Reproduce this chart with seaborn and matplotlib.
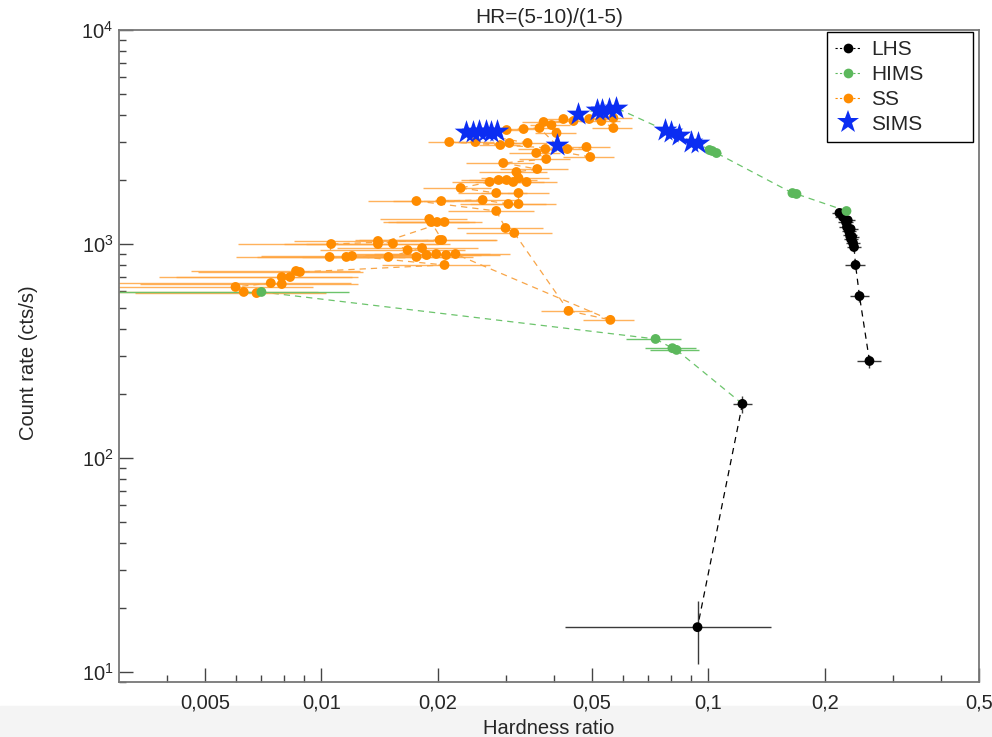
import pandas as pd
import matplotlib
matplotlib.use("Agg")
import matplotlib.pyplot as plt
import seaborn as sns
from matplotlib.lines import Line2D
from matplotlib.patches import Rectangle
from matplotlib.ticker import FixedLocator, FixedFormatter, NullFormatter

# values, each state kept in time order
lhs_hr = [0.2606, 0.2456, 0.2399, 0.2377, 0.2363, 0.2335, 0.2350, 0.2321, 0.2307,
          0.2330, 0.2280, 0.2266, 0.2290, 0.2226, 0.2180, 0.1224, 0.0937]
lhs_rate = [284, 571, 798, 968, 1011, 1055, 1080, 1102, 1150,
            1175, 1200, 1267, 1290, 1337, 1397, 179, 16.2]
lhs_hr_err = [0.018, 0.014, 0.014, 0.010, 0.010, 0.010, 0.010, 0.010, 0.010,
              0.010, 0.010, 0.010, 0.010, 0.010, 0.010, 0.007, 0.051]
lhs_rate_err = [20, 35, 45, 50, 50, 50, 50, 50, 50, 50, 50, 50, 50, 50, 50, 16, 5.3]

hims_hr = [0.2273, 0.1688, 0.1648, 0.1049, 0.1023, 0.1006, 0.0070, 0.0730, 0.0807, 0.0827]
hims_rate = [1426, 1713, 1730, 2661, 2720, 2749, 597, 360, 326, 320]
hims_hr_err = [0.005, 0.004, 0.004, 0.003, 0.003, 0.003, 0.0048, 0.0117, 0.012, 0.012]
hims_rate_err = [25, 25, 25, 30, 30, 30, 8, 6, 6, 6]

sims_hr = [0.0937, 0.0904, 0.0841, 0.0802, 0.0770, 0.0578, 0.0555, 0.0532, 0.0514,
           0.0459, 0.0405, 0.0285, 0.0275, 0.0267, 0.0256, 0.0246, 0.0237]
sims_rate = [2965, 2998, 3227, 3335, 3411, 4321, 4275, 4227, 4227,
             4051, 2901, 3374, 3337, 3374, 3374, 3337, 3337]

ss_hr = [0.0568, 0.0568, 0.0529, 0.0492, 0.0448, 0.0422, 0.0393, 0.0375, 0.0405,
         0.0366, 0.0333, 0.0301,
         0.0341, 0.0306, 0.0290, 0.0250, 0.0214, 0.0432, 0.0484, 0.0495, 0.0379, 0.0359,
         0.0381, 0.0295, 0.0361, 0.0319, 0.0323, 0.0339, 0.0313, 0.0301, 0.0287, 0.0272,
         0.0229, 0.0283, 0.0323, 0.0323, 0.0304, 0.0261, 0.0204, 0.0176, 0.0283, 0.0299,
         0.0315, 0.0435, 0.0558, 0.0222, 0.0210, 0.0198, 0.0187, 0.0176, 0.0149, 0.0182,
         0.0167, 0.0153, 0.0140, 0.0140, 0.0208, 0.0199, 0.0192, 0.0190, 0.0205, 0.0202,
         0.0106, 0.0105, 0.0116, 0.0120, 0.0208, 0.0088, 0.0086, 0.0083, 0.0079, 0.0079,
         0.0074, 0.0060, 0.0063, 0.0068]
ss_rate = [3880, 3484, 3757, 3838, 3757, 3838, 3598, 3717, 3301,
           3484, 3446, 3409,
           2965, 2965, 2901, 2996, 2996, 2779, 2840, 2550, 2779, 2662,
           2496, 2390, 2241, 2170, 2034, 1949, 1949, 1991, 1991, 1949,
           1827, 1731, 1731, 1538, 1538, 1606, 1588, 1588, 1427, 1188,
           1126, 487, 442, 898, 888, 898, 888, 870, 870, 957,
           937, 1005, 1033, 1000, 1267, 1267, 1267, 1309, 1044, 1044,
           1000, 870, 870, 879, 798, 740, 748, 701, 701, 650,
           657, 630, 597, 590]
ss_hr_err = [0.0068, 0.0068, 0.0063, 0.0059, 0.0054, 0.0051, 0.0047, 0.0045, 0.0049,
             0.0044, 0.0040, 0.0036,
             0.0041, 0.0037, 0.0035, 0.0030, 0.0026, 0.0065, 0.0073, 0.0074, 0.0057, 0.0054,
             0.0057, 0.0059, 0.0072, 0.0064, 0.0065, 0.0068, 0.0063, 0.0060, 0.0057, 0.0054,
             0.0046, 0.0057, 0.0065, 0.0081, 0.0076, 0.0065, 0.0051, 0.0044, 0.0071, 0.0075,
             0.0079, 0.0065, 0.0085, 0.0085, 0.0080, 0.0075, 0.0072, 0.0070, 0.0060, 0.0072,
             0.0068, 0.0062, 0.0055, 0.0060, 0.0052, 0.0050, 0.0048, 0.0048, 0.0080, 0.0080,
             0.0045, 0.0045, 0.0048, 0.0050, 0.0065, 0.0040, 0.0040, 0.0041, 0.0041, 0.0045,
             0.0045, 0.0035, 0.0035, 0.0035]

# how the states follow each other in time: (state, number of points)
sequence = [("LHS", 15), ("HIMS", 6), ("SIMS", 10), ("SS", 9), ("SIMS", 1),
            ("SS", 3), ("SIMS", 6), ("SS", 64), ("HIMS", 4), ("LHS", 2)]

x_ticks = [0.005, 0.01, 0.02, 0.05, 0.1, 0.2, 0.5]
x_tick_labels = ["0,005", "0,01", "0,02", "0,05", "0,1", "0,2", "0,5"]
x_minor = [0.004, 0.006, 0.007, 0.008, 0.009, 0.03, 0.04,
           0.06, 0.07, 0.08, 0.09, 0.3, 0.4]

colors = {"LHS": "black", "HIMS": "#5cb85c", "SS": "#ff8c00", "SIMS": "#0b2df2"}
line_colors = {"LHS": "black", "HIMS": "#6cc46c", "SS": "#f8a548"}
err_colors = {"LHS": "#3a3a3a", "HIMS": "#6cc46c", "SS": "#ffa53f"}

states = {
    "LHS": (lhs_hr, lhs_rate, lhs_hr_err, lhs_rate_err),
    "HIMS": (hims_hr, hims_rate, hims_hr_err, hims_rate_err),
    "SS": (ss_hr, ss_rate, ss_hr_err, [0] * len(ss_hr)),
    "SIMS": (sims_hr, sims_rate, [0] * len(sims_hr), [0] * len(sims_hr)),
}

# put all points in time order
rows = []
pos = {k: 0 for k in states}
for st, n in sequence:
    hr, rate, hr_err, rate_err = states[st]
    for _ in range(n):
        i = pos[st]
        rows.append({"state": st, "hr": hr[i], "rate": rate[i],
                     "hr_err": hr_err[i], "rate_err": rate_err[i]})
        pos[st] += 1
df = pd.DataFrame(rows)

# dashed track between consecutive points, coloured by the state it leaves
seg_rows = []
last = "LHS"
for i in range(len(df) - 1):
    st = df.loc[i, "state"]
    if st != "SIMS":
        last = st
    for j in (i, i + 1):
        seg_rows.append({"seg": i, "line_state": last,
                         "hr": df.loc[j, "hr"], "rate": df.loc[j, "rate"]})
seg_df = pd.DataFrame(seg_rows)

sns.set_style("ticks")
plt.rcParams["font.family"] = ["Liberation Sans", "DejaVu Sans"]
plt.rcParams["mathtext.fontset"] = "custom"
plt.rcParams["mathtext.rm"] = "Liberation Sans"
plt.rcParams["xtick.direction"] = "in"
plt.rcParams["ytick.direction"] = "in"

fig = plt.figure(figsize=(9.92, 7.37), dpi=100)
fig.patches.append(Rectangle((0, 0), 1, 0.042, transform=fig.transFigure,
                             color="#f4f4f4", zorder=-1))
ax = fig.add_axes([119 / 992, 1 - 682 / 737, 860 / 992, 652 / 737])
ax.set_xscale("log")
ax.set_yscale("log")

sns.lineplot(data=seg_df, x="hr", y="rate", hue="line_state", units="seg",
             estimator=None, sort=False, palette=line_colors, legend=False,
             linestyle=(0, (5, 4)), linewidth=0.9, zorder=1, ax=ax)

for st in ["SS", "HIMS", "LHS"]:
    sub = df[df["state"] == st]
    ax.errorbar(sub["hr"], sub["rate"], xerr=sub["hr_err"],
                yerr=sub["rate_err"] if st != "SS" else None,
                fmt="none", ecolor=err_colors[st], elinewidth=1.0,
                alpha=0.85 if st == "SS" else 1.0, capsize=0, zorder=2)

dots = df[df["state"] != "SIMS"]
sns.scatterplot(data=dots, x="hr", y="rate", hue="state", palette=colors,
                s=50, linewidth=0, legend=False, zorder=4, ax=ax)
stars = df[df["state"] == "SIMS"]
sns.scatterplot(data=stars, x="hr", y="rate", marker="*", color=colors["SIMS"],
                s=320, linewidth=0, legend=False, zorder=5, ax=ax)

ax.set_xlim(0.003, 0.5)
ax.set_ylim(8.98, 1e4)
ax.xaxis.set_major_locator(FixedLocator(x_ticks))
ax.xaxis.set_major_formatter(FixedFormatter(x_tick_labels))
ax.xaxis.set_minor_locator(FixedLocator(x_minor))
ax.xaxis.set_minor_formatter(NullFormatter())
ax.tick_params(which="major", length=10, width=1, color="#444444",
               labelsize=14.5, top=False, right=False)
ax.tick_params(which="minor", length=5, width=1, color="#444444",
               top=False, right=False)
ax.tick_params(axis="x", pad=8)
ax.tick_params(axis="y", pad=4)
for sp in ax.spines.values():
    sp.set_color("#777777")
    sp.set_linewidth(1.3)

ax.set_title("HR=(5-10)/(1-5)", fontsize=15, pad=5)
ax.set_xlabel("Hardness ratio", fontsize=14.5)
ax.set_ylabel("Count rate (cts/s)", fontsize=14.5)
ax.xaxis.set_label_coords(0.5, -0.056)
ax.yaxis.set_label_coords(-0.094, 0.49)

handles = [
    Line2D([0], [0], color="black", ls=(0, (2, 2)), lw=0.8, marker="o", ms=7,
           markeredgewidth=0, label="LHS"),
    Line2D([0], [0], color=colors["HIMS"], ls=(0, (2, 2)), lw=0.8, marker="o",
           ms=7, markeredgewidth=0, label="HIMS"),
    Line2D([0], [0], color=colors["SS"], ls=(0, (2, 2)), lw=0.8, marker="o",
           ms=7, markeredgewidth=0, label="SS"),
    Line2D([0], [0], color=colors["SIMS"], ls="none", marker="*", ms=17,
           markeredgewidth=0, label="SIMS"),
]
# fixed-width box like the reference, entries left aligned
leg = ax.legend(handles=handles, loc="upper left",
                bbox_to_anchor=(0.8233, 0.0, 0.1698, 0.997), mode="expand",
                fontsize=15, frameon=True, fancybox=False, edgecolor="black",
                framealpha=1, borderaxespad=0, handlelength=1.25,
                handletextpad=0.45, labelspacing=0.28, borderpad=0.4)
leg.get_frame().set_linewidth(1.0)

fig.savefig("out.png", dpi=100)
